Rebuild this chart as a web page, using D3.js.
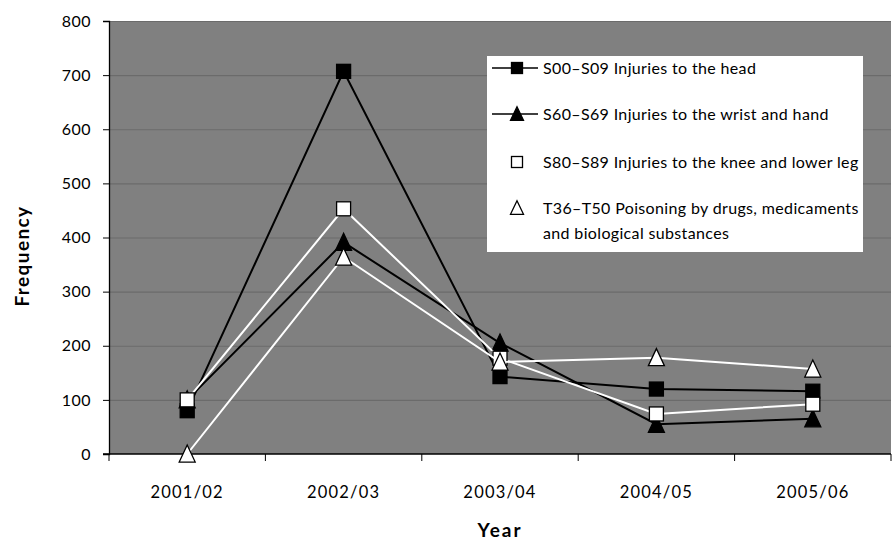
<!DOCTYPE html>
<html>
<head>
<meta charset="utf-8">
<script src="https://cdn.jsdelivr.net/npm/d3@7"></script>
<style>
  html, body { margin: 0; padding: 0; background: #ffffff; }
  svg { display: block; font-family: Lato, "Open Sans", sans-serif; }
</style>
</head>
<body>
<svg id="chart" width="892" height="542"></svg>
<script>
// Financial years on the x axis
const years = ["2001/02", "2002/03", "2003/04", "2004/05", "2005/06"];

// Frequency of admissions per diagnosis group
const headInjuries  = [80, 707, 143, 120, 116];
const wristHand     = [100, 391, 205, 55, 65];
const kneeLowerLeg  = [100, 453, 177, 74, 92];
const poisoning     = [0, 364, 170, 178, 157];

const seriesNames = [
  "S00\u2013S09 Injuries to the head",
  "S60\u2013S69 Injuries to the wrist and hand",
  "S80\u2013S89 Injuries to the knee and lower leg",
  "T36\u2013T50 Poisoning by drugs, medicaments|and biological substances"
];

const yTicks = [0, 100, 200, 300, 400, 500, 600, 700, 800];

const series = [
  { name: seriesNames[0], values: headInjuries, line: "#000", marker: "square",   fill: "#000" },
  { name: seriesNames[1], values: wristHand,    line: "#000", marker: "triangle", fill: "#000" },
  { name: seriesNames[2], values: kneeLowerLeg, line: "#fff", marker: "square",   fill: "#fff" },
  { name: seriesNames[3], values: poisoning,    line: "#fff", marker: "triangle", fill: "#fff" }
];

const svg = d3.select("#chart");
const plot = { left: 109, right: 891, top: 21, bottom: 454 };

const x = d3.scalePoint().domain(years).range([plot.left, plot.right]).padding(0.5);
const xBand = d3.scaleBand().domain(years).range([plot.left, plot.right]);
const y = d3.scaleLinear().domain([0, 800]).range([plot.bottom, plot.top]);

// Plot background
svg.append("rect")
  .attr("x", plot.left).attr("y", plot.top)
  .attr("width", plot.right - plot.left).attr("height", plot.bottom - plot.top)
  .attr("fill", "#808080");

// Horizontal gridlines
svg.append("g").selectAll("line")
  .data(yTicks.filter(d => d > 0))
  .join("line")
  .attr("x1", plot.left).attr("x2", plot.right)
  .attr("y1", d => y(d) + 0.5).attr("y2", d => y(d) + 0.5)
  .attr("stroke", "#6b6b6b").attr("stroke-width", 1.2);

// Y axis
const yAxis = d3.axisLeft(y).tickValues(yTicks).tickSize(6).tickPadding(12).tickFormat(d3.format("d"));
const gy = svg.append("g").attr("transform", `translate(${plot.left},0)`).call(yAxis);
gy.select(".domain").attr("stroke", "#000").attr("stroke-width", 1.3);
gy.selectAll(".tick line").attr("stroke", "#000");
gy.selectAll("text").attr("font-size", 16).attr("fill", "#000")
  .attr("font-family", "Lato, sans-serif").attr("letter-spacing", 0.5);

// X axis: ticks at category boundaries
const gx = svg.append("g").attr("transform", `translate(0,${plot.bottom})`);
gx.append("line").attr("x1", plot.left - 6).attr("x2", plot.right)
  .attr("y1", 0).attr("y2", 0).attr("stroke", "#000").attr("stroke-width", 1.3);
const boundaries = years.map(d => xBand(d)).concat([xBand(years[years.length - 1]) + xBand.bandwidth()]);
gx.selectAll("line.tk").data(boundaries).join("line").attr("class", "tk")
  .attr("x1", d => d).attr("x2", d => d).attr("y1", 0).attr("y2", 7)
  .attr("stroke", "#000").attr("stroke-width", 1);
gx.selectAll("text").data(years).join("text")
  .attr("x", d => x(d)).attr("y", 44)
  .attr("text-anchor", "middle").attr("font-size", 16.5).attr("letter-spacing", 1.2)
  .text(d => d);

// Axis titles
svg.append("text").attr("transform", "translate(29,256) rotate(-90)")
  .attr("text-anchor", "middle").attr("font-weight", "bold").attr("font-size", 19)
  .attr("letter-spacing", 1.4)
  .text("Frequency");
svg.append("text").attr("x", 500).attr("y", 537)
  .attr("text-anchor", "middle").attr("font-weight", "bold").attr("font-size", 19)
  .attr("letter-spacing", 2)
  .text("Year");

// Marker shapes
const sqSize = 14;
function drawMarker(g, type, cx, cy, fill, size) {
  const s = size || sqSize;
  if (type === "square") {
    g.append("rect").attr("x", cx - s / 2).attr("y", cy - s / 2)
      .attr("width", s).attr("height", s)
      .attr("fill", fill).attr("stroke", "#000").attr("stroke-width", 1.3);
  } else {
    const h = s * 1.15;
    g.append("path")
      .attr("d", `M${cx},${cy - h / 2 - 1}L${cx + s / 2 + 1},${cy + h / 2}L${cx - s / 2 - 1},${cy + h / 2}Z`)
      .attr("fill", fill).attr("stroke", "#000").attr("stroke-width", 1.3)
      .attr("stroke-linejoin", "miter");
  }
}

const line = d3.line().x((d, i) => x(years[i])).y(d => y(d));

series.forEach(s => {
  const g = svg.append("g");
  g.append("path").datum(s.values).attr("d", line)
    .attr("fill", "none").attr("stroke", s.line).attr("stroke-width", 2);
  s.values.forEach((v, i) => drawMarker(g, s.marker, x(years[i]), y(v), s.fill));
});

// Legend
const legend = svg.append("g");
legend.append("rect").attr("x", 487).attr("y", 56).attr("width", 376).attr("height", 196)
  .attr("fill", "#fff");
const rowY = [68, 114, 162, 208];
series.forEach((s, i) => {
  const cy = rowY[i];
  legend.append("line").attr("x1", 492).attr("x2", 538).attr("y1", cy).attr("y2", cy)
    .attr("stroke", s.line).attr("stroke-width", 1.5);
  drawMarker(legend, s.marker, 517, cy, s.fill, 11);
  const lines = s.name.split("|");
  lines.forEach((t, j) => {
    legend.append("text").attr("x", 543).attr("y", cy + 5.5 + j * 25)
      .attr("font-size", 16).attr("letter-spacing", 0.35).attr("fill", "#000").text(t);
  });
});
</script>
</body>
</html>
